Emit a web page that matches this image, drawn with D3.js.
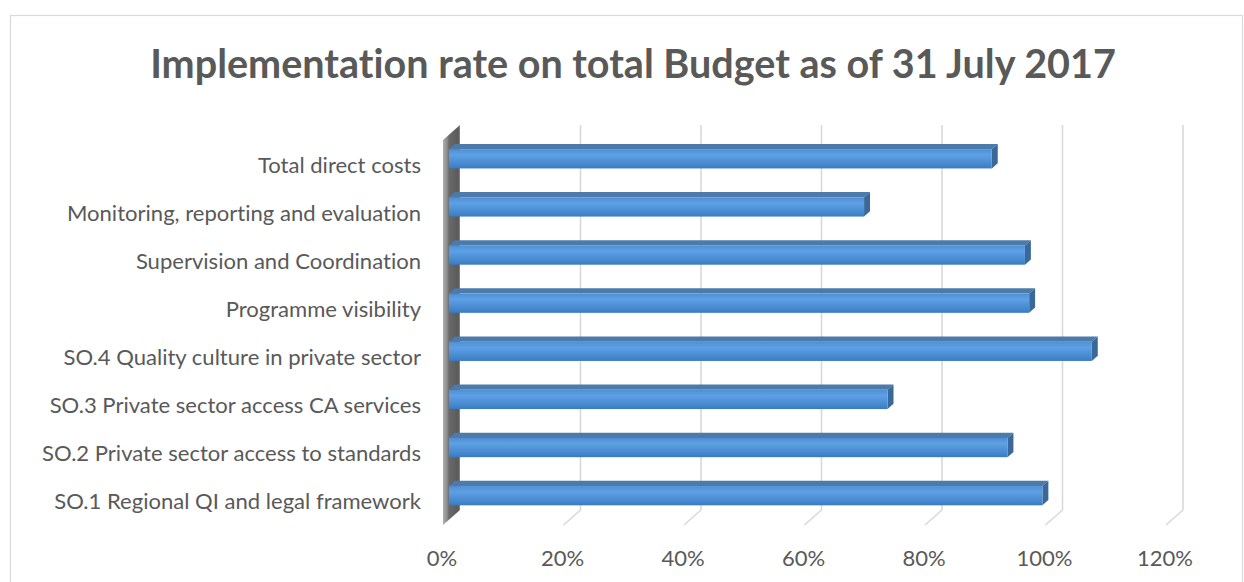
<!DOCTYPE html>
<html>
<head>
<meta charset="utf-8">
<script src="https://cdn.jsdelivr.net/npm/d3@7"></script>
<style>
  html, body { margin: 0; padding: 0; background: #fff; }
  svg { display: block; }
  text { font-variant-ligatures: none; }
</style>
</head>
<body>
<svg id="chart" width="1244" height="582"></svg>
<script>
const title = "Implementation rate on total Budget as of 31 July 2017";
const categories = [
  "SO.1 Regional QI and legal framework",
  "SO.2 Private sector access to standards",
  "SO.3 Private sector access CA services",
  "SO.4 Quality culture in private sector",
  "Programme visibility",
  "Supervision and Coordination",
  "Monitoring, reporting and evaluation",
  "Total direct costs"
];
const values = [98.5, 92.7, 72.8, 106.7, 96.3, 95.6, 68.9, 90.1];
const tickValues = [0, 20, 40, 60, 80, 100, 120];

const svg = d3.select("#chart");

// frame
svg.append("rect").attr("x", 10.5).attr("y", 15.5).attr("width", 1232).attr("height", 600)
  .attr("fill", "#fff").attr("stroke", "#d9d9d9").attr("stroke-width", 1.2);

// 3D projection
const ox = 443, oy = 140, plotW = 723, plotH = 385;
const DX = 17, DY = -15;
const P = (x, y, d) => [ox + x + DX * d, oy + y + DY * d];

const x = d3.scaleLinear().domain([0, 120]).range([0, plotW]);
const y = d3.scaleBand().domain(categories.slice().reverse()).range([0, plotH])
  .paddingInner(0.6).paddingOuter(0.3);

const defs = svg.append("defs");
const wallG = defs.append("linearGradient").attr("id", "wallG").attr("x1", 0).attr("x2", 1).attr("y1", 0).attr("y2", 0);
wallG.append("stop").attr("offset", 0).attr("stop-color", "#b0b0b0");
wallG.append("stop").attr("offset", 0.25).attr("stop-color", "#8a8a8a");
wallG.append("stop").attr("offset", 0.35).attr("stop-color", "#6a6a6a");
wallG.append("stop").attr("offset", 0.9).attr("stop-color", "#5a5a5a");
wallG.append("stop").attr("offset", 1).attr("stop-color", "#8c8c8c");

const barG = defs.append("linearGradient").attr("id", "barG").attr("x1", 0).attr("x2", 0).attr("y1", 0).attr("y2", 1);
barG.append("stop").attr("offset", 0).attr("stop-color", "#4f8ed3");
barG.append("stop").attr("offset", 0.3).attr("stop-color", "#5ea0e4");
barG.append("stop").attr("offset", 0.85).attr("stop-color", "#4285cc");
barG.append("stop").attr("offset", 1).attr("stop-color", "#3b79bb");

const line = d3.line();
const poly = pts => "M" + pts.map(p => p.join(",")).join("L") + "Z";

// gridlines on back wall and floor
const grid = svg.append("g");
tickValues.filter(v => v > 0).forEach(v => {
  grid.append("path")
    .attr("d", line([P(x(v), 0, 1), P(x(v), plotH, 1), P(x(v), plotH, 0)]))
    .attr("fill", "none").attr("stroke", "#d9d9d9").attr("stroke-width", 1.6);
});

// left wall
svg.append("path")
  .attr("d", poly([P(0, 0, 0), P(0, 0, 1), P(0, plotH, 1), P(0, plotH, 0)]))
  .attr("fill", "url(#wallG)");

// bars
const df = 0.35, db = 0.7;
const bars = svg.append("g");
categories.forEach((c, i) => {
  const v = values[i];
  const y0 = y(c), y1 = y(c) + y.bandwidth();
  const xv = x(v), x0 = x(0);
  const g = bars.append("g");
  g.append("path").attr("d", poly([P(x0, y0, df), P(xv, y0, df), P(xv, y0, db), P(x0, y0, db)]))
    .attr("fill", "#4c7aab");
  g.append("path").attr("d", poly([P(xv, y0, df), P(xv, y0, db), P(xv, y1, db), P(xv, y1, df)]))
    .attr("fill", "#3a6899");
  const a = P(x0, y0, df), b = P(xv, y1, df);
  g.append("rect").attr("x", a[0]).attr("y", a[1]).attr("width", b[0] - a[0]).attr("height", b[1] - a[1])
    .attr("fill", "url(#barG)");
});

const FONT = "Lato, 'Open Sans', 'DejaVu Sans', sans-serif";

// category labels
const labs = svg.append("g").selectAll("text").data(categories).join("text")
  .attr("x", 421)
  .attr("y", c => oy + y(c) + y.bandwidth() / 2)
  .attr("text-anchor", "end")
  .attr("dominant-baseline", "central")
  .attr("fill", "#595959")
  .attr("font-family", FONT)
  .attr("font-size", 20)
  .text(c => c);
let maxW = 0;
labs.each(function () { maxW = Math.max(maxW, this.getComputedTextLength()); });
const labFS = 20 * 379 / maxW;
labs.attr("font-size", labFS);

// tick labels
svg.append("g").selectAll("text").data(tickValues).join("text")
  .attr("x", v => P(x(v), plotH, 0)[0] - 1)
  .attr("y", 557)
  .attr("text-anchor", "middle")
  .attr("dominant-baseline", "central")
  .attr("fill", "#595959")
  .attr("font-family", FONT)
  .attr("font-size", labFS)
  .text(v => v + "%");

// title
const t = svg.append("text")
  .attr("x", 633).attr("y", 62)
  .attr("text-anchor", "middle")
  .attr("dominant-baseline", "central")
  .attr("fill", "#595959")
  .attr("font-family", FONT)
  .attr("font-weight", "bold")
  .attr("font-size", 36)
  .text(title);
const tw = t.node().getComputedTextLength();
t.attr("font-size", 36 * 966 / tw);
</script>
</body>
</html>
